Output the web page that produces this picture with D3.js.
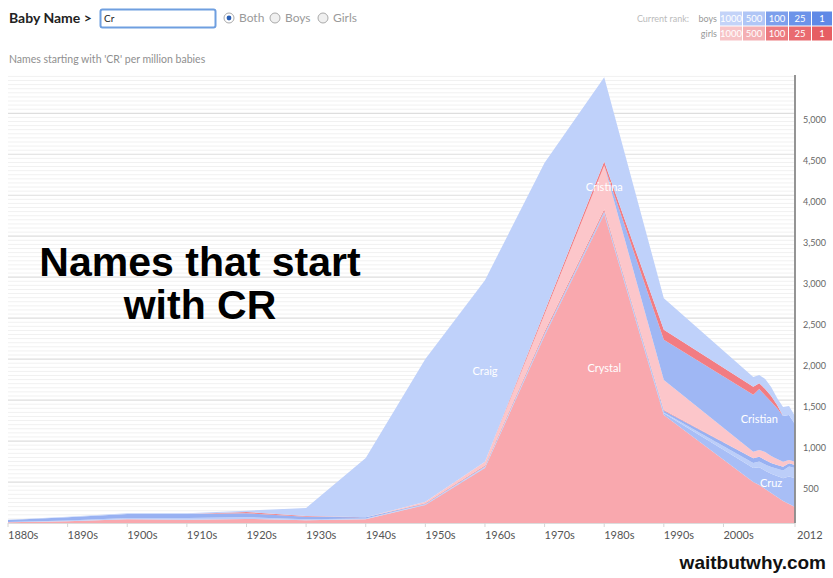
<!DOCTYPE html>
<html><head><meta charset="utf-8">
<script src="https://cdn.jsdelivr.net/npm/d3@7"></script>
<style>
html,body{margin:0;padding:0;background:#fff;}
svg{display:block;font-family:Lato,"Open Sans",sans-serif;}
</style></head>
<body>
<svg id="chart" width="833" height="578"></svg>
<script>
// ---- data (per million babies) ----
const years     = [1880,1890,1900,1910,1920,1930,1940,1950,1960,1970,1980,1990,2005,2006,2007,2008,2009,2010,2011,2012];
const crystal   = [8,20,45,40,50,35,45,220,672,2286,3768,1319,501,464,415,366,317,269,232,195];
const cruz      = [0,0,0,0,0,0,0,5,5,15,20,20,171,216,224,235,256,278,337,352];
const cristobal = [5,10,15,20,20,10,10,5,10,5,5,10,61,70,75,82,90,95,120,125];
const crawford  = [25,40,50,50,50,30,15,5,6,10,10,21,57,60,55,50,45,45,40,36];
const cristal   = [0,0,0,0,15,10,0,5,10,20,25,10,0,0,0,0,0,0,0,0];
const cristina  = [0,0,0,0,0,0,0,18,45,214,534,366,81,81,98,85,73,61,40,40];
const cristian  = [0,0,0,0,0,0,0,0,0,0,0,491,693,745,689,663,620,558,550,458];
const crista    = [0,0,0,0,0,0,0,0,0,30,50,120,100,70,80,70,40,0,0,0];
const craig     = [2,5,8,10,15,98,723,1742,2215,1816,1028,387,119,101,122,110,85,110,110,100];

const seriesKeys   = ["Crystal","Cruz","Cristobal","Crawford","Cristal","Cristina","Cristian","Crista","Craig"];
const seriesValues = [crystal,cruz,cristobal,crawford,cristal,cristina,cristian,crista,craig];
const seriesColors = ["#f9a8ae","#a8bef6","#bccef9","#98b1f2","#f08a90","#fcc6ca","#9fb7f4","#f27c82","#bfd1fa"];
const labelled     = {Craig:1960, Crystal:1980, Cristina:1980, Cristian:2006, Cruz:2008};

const xTickYears  = [1880,1890,1900,1910,1920,1930,1940,1950,1960,1970,1980,1990,2000,2012];
const xTickLabels = ["1880s","1890s","1900s","1910s","1920s","1930s","1940s","1950s","1960s","1970s","1980s","1990s","2000s","2012"];
const yTickValues = [500,1000,1500,2000,2500,3000,3500,4000,4500,5000];

const rankLabels  = ["1000","500","100","25","1"];
const boysColors  = ["#c3d3f8","#b0c6f6","#7d9fec","#6c93e9","#5f89e6"];
const girlsColors = ["#f7c4c7","#f4b0b4","#ec7a7f","#e96b70","#e65e63"];

// ---- build ----
const svg = d3.select("#chart");
const x = d3.scaleLinear().domain([1880,2012]).range([8,795]);
const y = d3.scaleLinear().domain([0,5000]).range([523,113.3]);

const table = years.map((yr,i)=>{const o={year:yr}; seriesKeys.forEach((k,j)=>o[k]=seriesValues[j][i]); return o;});
const stacked = d3.stack().keys(seriesKeys)(table);

// grid
const g = svg.append("g");
const minor = d3.range(50,5451,50).filter(v=>v%500!==0);
g.selectAll("line.minor").data(minor).join("line")
  .attr("x1",8).attr("x2",795).attr("y1",d=>y(d)).attr("y2",d=>y(d))
  .attr("stroke","#f1f1f1").attr("stroke-width",1);
g.selectAll("line.major").data(yTickValues).join("line")
  .attr("x1",8).attr("x2",795).attr("y1",d=>y(d)).attr("y2",d=>y(d))
  .attr("stroke","#dedede").attr("stroke-width",1.2);

// areas
const area = d3.area().x(d=>x(d.data.year)).y0(d=>y(d[0])).y1(d=>y(d[1]));
svg.append("g").selectAll("path").data(stacked).join("path")
  .attr("d",area).attr("fill",(d,i)=>seriesColors[i]);

// baseline
svg.append("line").attr("x1",8).attr("x2",795).attr("y1",y(0)+0.5).attr("y2",y(0)+0.5)
  .attr("stroke","#dcdcdc");

// series labels
stacked.forEach(s=>{
  const yr = labelled[s.key]; if(!yr) return;
  const i = years.indexOf(yr); const d = s[i];
  svg.append("text").attr("x",x(yr)).attr("y",y((d[0]+d[1])/2)).attr("dy","0.35em")
    .attr("text-anchor","middle").attr("fill","#fff").attr("font-size",11).text(s.key);
});

// right axis
svg.append("line").attr("x1",795).attr("x2",795).attr("y1",75).attr("y2",y(0))
  .attr("stroke","#8a8a8a").attr("stroke-width",1.8);
svg.append("g").selectAll("text").data(yTickValues).join("text")
  .attr("x",803).attr("y",d=>y(d)+10).attr("font-size",9).attr("fill","#666")
  .text(d=>d3.format(",")(d));

// x axis
svg.append("g").selectAll("line").data(xTickYears).join("line")
  .attr("x1",d=>x(d)).attr("x2",d=>x(d)).attr("y1",y(0)).attr("y2",y(0)+4)
  .attr("stroke","#d6d6d6");
svg.append("g").selectAll("text").data(xTickYears).join("text")
  .attr("x",(d,i)=>x(d)+(i===xTickYears.length-1?2:0)).attr("y",539)
  .attr("font-size",11).attr("fill","#555")
  .text((d,i)=>xTickLabels[i]);

// header
svg.append("text").attr("x",9).attr("y",23).attr("font-size",14).attr("font-weight","bold").attr("fill","#222").text("Baby Name >");
svg.append("rect").attr("x",100.5).attr("y",9.5).attr("width",115).attr("height",18).attr("rx",2)
  .attr("fill","#fff").attr("stroke","#6f9fe0").attr("stroke-width",2);
svg.append("text").attr("x",104).attr("y",22).attr("font-size",10).attr("fill","#222").text("Cr");
const radios = [{x:229,t:"Both",on:true},{x:275,t:"Boys"},{x:323,t:"Girls"}];
radios.forEach(r=>{
  svg.append("circle").attr("cx",r.x).attr("cy",18).attr("r",5).attr("fill",r.on?"#fff":"#f0f0f0").attr("stroke","#aaa");
  if(r.on) svg.append("circle").attr("cx",r.x).attr("cy",18).attr("r",2.4).attr("fill","#2a5fb5");
  svg.append("text").attr("x",r.x+10).attr("y",22).attr("font-size",12).attr("fill","#9a9a9a").text(r.t);
});
svg.append("text").attr("x",9).attr("y",63).attr("font-size",10.5).attr("fill","#8f8f8f")
  .text("Names starting with 'CR' per million babies");

// legend
svg.append("text").attr("x",689).attr("y",22).attr("text-anchor","end").attr("font-size",9).attr("fill","#bbb").text("Current rank:");
svg.append("text").attr("x",717).attr("y",22).attr("text-anchor","end").attr("font-size",9).attr("fill","#999").text("boys");
svg.append("text").attr("x",717).attr("y",37).attr("text-anchor","end").attr("font-size",9).attr("fill","#999").text("girls");
const boxX = [720,743,766,789,812,833];
[[boysColors,11.5],[girlsColors,26.5]].forEach(([cols,by])=>{
  rankLabels.forEach((t,i)=>{
    svg.append("rect").attr("x",boxX[i]).attr("y",by).attr("width",boxX[i+1]-boxX[i]-1).attr("height",14).attr("fill",cols[i]);
    svg.append("text").attr("x",(boxX[i]+boxX[i+1]-1)/2).attr("y",by+10.5).attr("text-anchor","middle")
      .attr("font-size",9.5).attr("fill","#fff").text(t);
  });
});

// annotation
const ann = svg.append("text").attr("text-anchor","middle").attr("font-family","'Liberation Sans',Arial,sans-serif")
  .attr("font-weight","bold").attr("font-size",41).attr("fill","#000");
ann.append("tspan").attr("x",200).attr("y",276).text("Names that start");
ann.append("tspan").attr("x",200).attr("y",319).text("with CR");

// watermark
svg.append("text").attr("x",826).attr("y",569).attr("text-anchor","end")
  .attr("font-family","'Liberation Sans',Arial,sans-serif").attr("font-weight","bold")
  .attr("font-size",19).attr("fill","#111").text("waitbutwhy.com");
</script>
</body></html>
